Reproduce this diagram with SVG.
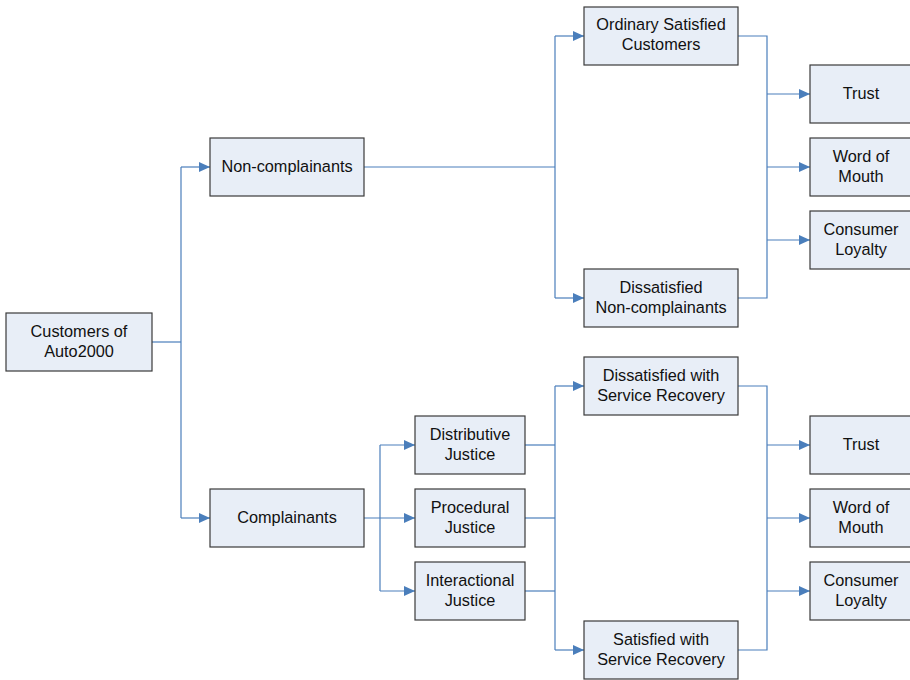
<svg xmlns="http://www.w3.org/2000/svg" width="910" height="680" viewBox="0 0 910 680">
<defs>
<marker id="ah" markerWidth="11" markerHeight="10" refX="11" refY="5" orient="auto" markerUnits="userSpaceOnUse">
<path d="M0,0 L11,5 L0,10 Z" fill="#4a7ebb"/>
</marker>
<style>
.box{fill:#e8eef7;stroke:#3a3a3a;stroke-width:1.2}
.t{font-family:"Liberation Sans",Arial,sans-serif;font-size:16.3px;fill:#111;text-anchor:middle}
.c{fill:none;stroke:#4a7ebb;stroke-width:1.2}
</style>
</defs>
<rect width="910" height="680" fill="#fff"/>
<g id="connectors">
<path class="c" d="M152,342 H181"/>
<path class="c" d="M181,167 V518"/>
<path class="c" d="M181,167 H210" marker-end="url(#ah)"/>
<path class="c" d="M181,518 H210" marker-end="url(#ah)"/>
<path class="c" d="M364,167 H555"/>
<path class="c" d="M555,36 V298"/>
<path class="c" d="M555,36 H584" marker-end="url(#ah)"/>
<path class="c" d="M555,298 H584" marker-end="url(#ah)"/>
<path class="c" d="M738,36 H767 V298 H738"/>
<path class="c" d="M767,94 H810" marker-end="url(#ah)"/>
<path class="c" d="M767,167 H810" marker-end="url(#ah)"/>
<path class="c" d="M767,240 H810" marker-end="url(#ah)"/>
<path class="c" d="M364,518 H415" marker-end="url(#ah)"/>
<path class="c" d="M380,445 V591"/>
<path class="c" d="M380,445 H415" marker-end="url(#ah)"/>
<path class="c" d="M380,591 H415" marker-end="url(#ah)"/>
<path class="c" d="M525,445 H555"/>
<path class="c" d="M525,518 H555"/>
<path class="c" d="M525,591 H555"/>
<path class="c" d="M555,386 V650"/>
<path class="c" d="M555,386 H584" marker-end="url(#ah)"/>
<path class="c" d="M555,650 H584" marker-end="url(#ah)"/>
<path class="c" d="M738,386 H767 V650 H738"/>
<path class="c" d="M767,445 H810" marker-end="url(#ah)"/>
<path class="c" d="M767,518 H810" marker-end="url(#ah)"/>
<path class="c" d="M767,591 H810" marker-end="url(#ah)"/>
</g>
<g id="customers"><rect class="box" x="6" y="313" width="146" height="58"/><text class="t" x="79" y="337">Customers of</text><text class="t" x="79" y="357">Auto2000</text></g>
<g id="noncomplainants"><rect class="box" x="210" y="138" width="154" height="58"/><text class="t" x="287" y="172">Non-complainants</text></g>
<g id="complainants"><rect class="box" x="210" y="489" width="154" height="58"/><text class="t" x="287" y="523">Complainants</text></g>
<g id="ordinary"><rect class="box" x="584" y="7" width="154" height="58"/><text class="t" x="661" y="30">Ordinary Satisfied</text><text class="t" x="661" y="50">Customers</text></g>
<g id="dissatisfiednc"><rect class="box" x="584" y="269" width="154" height="58"/><text class="t" x="661" y="293">Dissatisfied</text><text class="t" x="661" y="313">Non-complainants</text></g>
<g id="trust1"><rect class="box" x="810" y="65" width="110" height="58"/><text class="t" x="861" y="99">Trust</text></g>
<g id="wom1"><rect class="box" x="810" y="138" width="110" height="58"/><text class="t" x="861" y="162">Word of</text><text class="t" x="861" y="182">Mouth</text></g>
<g id="loyalty1"><rect class="box" x="810" y="211" width="110" height="58"/><text class="t" x="861" y="235">Consumer</text><text class="t" x="861" y="255">Loyalty</text></g>
<g id="distributive"><rect class="box" x="415" y="416" width="110" height="58"/><text class="t" x="470" y="440">Distributive</text><text class="t" x="470" y="460">Justice</text></g>
<g id="procedural"><rect class="box" x="415" y="489" width="110" height="58"/><text class="t" x="470" y="513">Procedural</text><text class="t" x="470" y="533">Justice</text></g>
<g id="interactional"><rect class="box" x="415" y="562" width="110" height="58"/><text class="t" x="470" y="586">Interactional</text><text class="t" x="470" y="606">Justice</text></g>
<g id="dissatisfiedsr"><rect class="box" x="584" y="357" width="154" height="58"/><text class="t" x="661" y="381">Dissatisfied with</text><text class="t" x="661" y="401">Service Recovery</text></g>
<g id="satisfiedsr"><rect class="box" x="584" y="621" width="154" height="58"/><text class="t" x="661" y="645">Satisfied with</text><text class="t" x="661" y="665">Service Recovery</text></g>
<g id="trust2"><rect class="box" x="810" y="416" width="110" height="58"/><text class="t" x="861" y="450">Trust</text></g>
<g id="wom2"><rect class="box" x="810" y="489" width="110" height="58"/><text class="t" x="861" y="513">Word of</text><text class="t" x="861" y="533">Mouth</text></g>
<g id="loyalty2"><rect class="box" x="810" y="562" width="110" height="58"/><text class="t" x="861" y="586">Consumer</text><text class="t" x="861" y="606">Loyalty</text></g>
</svg>
